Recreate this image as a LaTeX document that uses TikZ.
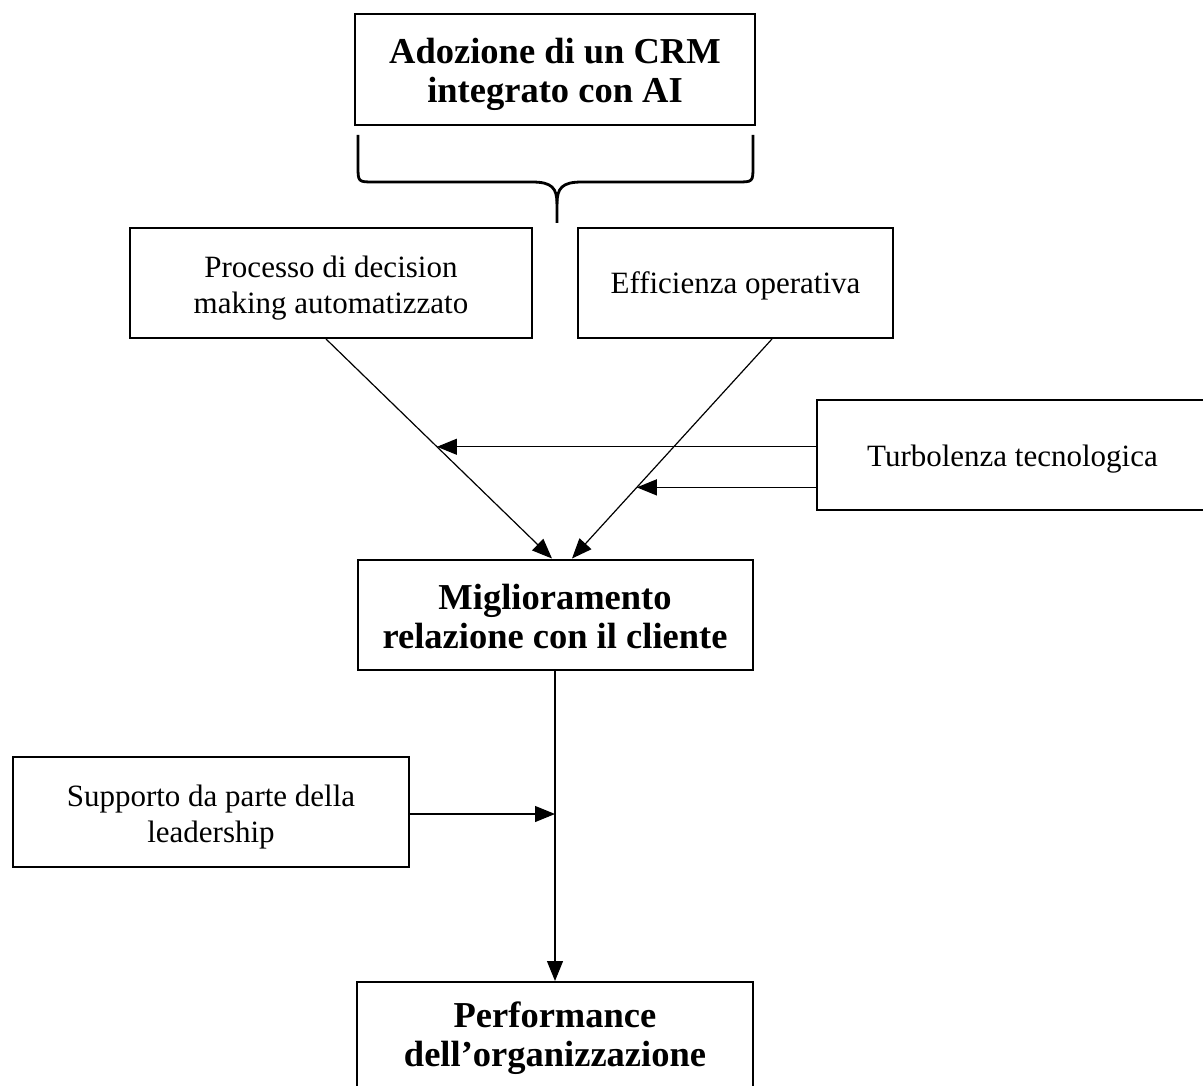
\documentclass[tikz,border=0pt]{standalone}
\usepackage{fontspec}
\setmainfont{Liberation Serif}
\usetikzlibrary{arrows.meta,calc}
\tikzset{
  box/.style={draw=black, line width=2pt, minimum height=110pt, inner sep=0pt},
  boldtxt/.style={align=center, inner sep=0pt, font=\fontsize{36.5}{39}\selectfont\bfseries},
  normtxt/.style={align=center, inner sep=0pt, font=\fontsize{31}{35.5}\selectfont},
  arr/.style={line width=1.2pt, -{Triangle[length=20pt,width=16pt]}},
  bracestyle/.style={line width=2.8pt, line cap=butt}
}
\begin{document}
\begin{tikzpicture}[x=1pt,y=-1pt]
\useasboundingbox (0,0) rectangle (1203,1086);
\clip (0,0) rectangle (1203,1086);
\fill[white] (0,0) rectangle (1203,1086);
\node[box, minimum width=400pt, minimum height=111pt] (top) at (555,69.5) {};
\node[boldtxt] (toptxt) at ([yshift=-5pt]top.center) {Adozione di un CRM\\integrato con AI};
\node[box, minimum width=402pt] (lb) at (331,283) {};
\node[normtxt] (lbtxt) at ([yshift=-5pt]lb.center) {Processo di decision\\making automatizzato};
\node[box, minimum width=315pt] (rb) at (735.5,283) {};
\node[normtxt] (rbtxt) at ([yshift=-3pt]rb.center) {Efficienza operativa};
\node[box, minimum width=391pt] (tb) at (1012.5,455) {};
\node[normtxt] (tbtxt) at ([yshift=-4pt]tb.center) {Turbolenza tecnologica};
\node[box, minimum width=395pt] (mig) at (555,614.5) {};
\node[boldtxt] (migtxt) at ([yshift=-2pt]mig.center) {Miglioramento\\relazione con il cliente};
\node[box, minimum width=396pt] (sup) at (211,812) {};
\node[normtxt] (suptxt) at ([yshift=-5pt]sup.center) {Supporto da parte della\\leadership};
\node[box, minimum width=396pt] (perf) at (555,1037) {};
\node[boldtxt] (perftxt) at ([yshift=-1pt]perf.center) {Performance\\dell’organizzazione};
% brace
\draw[bracestyle] (358,135) -- (358,166) .. controls (358,182) .. (374,182) -- (532,182) .. controls (552,182) and (557,188) .. (557,204) -- (557,223);
\draw[bracestyle] (753,135) -- (753,166) .. controls (753,182) .. (737,182) -- (582,182) .. controls (562,182) and (557,188) .. (557,204);
% arrows
\coordinate (s1) at ([xshift=-5pt]lb.south);
\coordinate (e1) at ([xshift=-3pt]mig.north);
\coordinate (s2) at ([xshift=36.5pt]rb.south);
\coordinate (e2) at ([xshift=17pt]mig.north);
\draw[arr] (s1) -- (e1);
\draw[arr] (s2) -- (e2);
\coordinate (p1) at ($(s1)!0.491!(e1)$);
\coordinate (p2) at ($(s2)!0.676!(e2)$);
\coordinate (t1) at (tb.west |- p1);
\coordinate (t2) at (tb.west |- p2);
\draw[arr] (t1) -- (p1);
\draw[arr] (t2) -- (p2);
\draw[arr] (mig.south) -- (perf.north);
\coordinate (m1) at (mig.south |- sup.east);
\draw[arr] ([yshift=-2pt]sup.east) -- ([yshift=-2pt]m1);
\end{tikzpicture}
\end{document}
